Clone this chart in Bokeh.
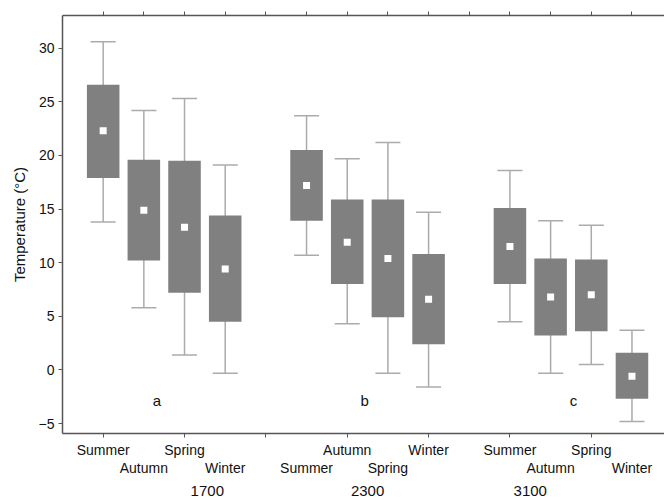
from bokeh.plotting import figure
from bokeh.models import (ColumnDataSource, Range1d, FixedTicker, LinearAxis, Whisker,
                          TeeHead, LabelSet)
from bokeh.core.properties import value
from bokeh.embed import file_html
from bokeh.resources import INLINE

# ---- data ----
seasons = ["Summer", "Autumn", "Spring", "Winter"]
altitudes = ["1700", "2300", "3100"]
panel_letters = ["a", "b", "c"]

# order: 1700 (S, A, Sp, W), 2300 (...), 3100 (...)
whisker_high = [30.6, 24.2, 25.3, 19.1, 23.7, 19.7, 21.2, 14.7, 18.6, 13.9, 13.5, 3.7]
box_top      = [26.6, 19.6, 19.5, 14.4, 20.5, 15.9, 15.9, 10.8, 15.1, 10.4, 10.3, 1.6]
center       = [22.3, 14.9, 13.3,  9.4, 17.2, 11.9, 10.4,  6.6, 11.5,  6.8,  7.0, -0.6]
box_bottom   = [17.9, 10.2,  7.2,  4.5, 13.9,  8.0,  4.9,  2.4,  8.0,  3.2,  3.6, -2.7]
whisker_low  = [13.8,  5.8,  1.4, -0.3, 10.7,  4.3, -0.3, -1.6,  4.5, -0.3,  0.5, -4.8]

y_ticks = [-5, 0, 5, 10, 15, 20, 25, 30]

# slot positions: 4 boxes per group, one empty slot between groups
xs = []
for g in range(len(altitudes)):
    for s in range(len(seasons)):
        xs.append(1 + g * 5 + s)
labels = seasons * len(altitudes)
group_pos = [3.56, 7.5, 11.5]

FONT = "Liberation Sans"
BOX = "#808080"
WHISK = "#ababab"
AXIS = "#555555"
TXT = "#111111"
TIN, TOUT = 0, 4

p = figure(width=664, height=500, output_backend="svg", toolbar_location=None,
           x_range=Range1d(0, 14.8), y_range=Range1d(-5.93, 33.05),
           min_border_left=62, min_border_right=0, min_border_top=15, min_border_bottom=67,
           x_axis_location=None)
p.outline_line_color = None
p.outline_line_alpha = 0
p.outline_line_width = 0
p.xgrid.visible = False
p.ygrid.visible = False

# left axis
ya = p.yaxis[0]
ya.ticker = FixedTicker(ticks=y_ticks)
ya.major_tick_in = TIN
ya.major_tick_out = TOUT
ya.minor_tick_line_color = None
ya.major_label_standoff = 8 - TOUT
ya.major_label_text_font = FONT
ya.major_label_text_font_size = "14px"
ya.major_label_text_color = TXT
ya.axis_line_color = AXIS
ya.axis_line_width = 1.5
ya.major_tick_line_color = AXIS
ya.axis_label = "Temperature (°C)"
ya.axis_label_text_font = FONT
ya.axis_label_text_font_size = "15px"
ya.axis_label_text_font_style = "normal"
ya.axis_label_text_color = TXT
ya.axis_label_standoff = 8

# bottom axis: ticks every second slot, first row of season labels
bottom_ticks = list(range(1, 15, 2))
row1 = {t: "" for t in bottom_ticks}
row2 = {}
for x, l in zip(xs, labels):
    if x % 2 == 1:
        row1[x] = l
    else:
        row2[x] = l

xb = LinearAxis(ticker=FixedTicker(ticks=bottom_ticks), major_tick_in=TIN, major_tick_out=TOUT,
                minor_tick_line_color=None, major_label_overrides=row1,
                major_label_standoff=4, major_label_text_font=FONT,
                major_label_text_font_size="14px", major_label_text_color=TXT,
                axis_line_color=AXIS, axis_line_width=1.5, major_tick_line_color=AXIS)
p.add_layout(xb, "below")

# second row of season labels
xr2 = LinearAxis(ticker=FixedTicker(ticks=sorted(row2)), major_tick_in=0, major_tick_out=0,
                 minor_tick_line_color=None, major_tick_line_color=None, axis_line_color=None,
                 axis_line_alpha=0, major_label_overrides=row2, major_label_standoff=-1,
                 major_label_text_font=FONT, major_label_text_font_size="14px",
                 major_label_text_color=TXT)
p.add_layout(xr2, "below")

# altitude group labels
xg = LinearAxis(ticker=FixedTicker(ticks=group_pos), major_tick_in=0, major_tick_out=0,
                minor_tick_line_color=None, major_tick_line_color=None, axis_line_color=None,
                axis_line_alpha=0,
                major_label_overrides={g: a for g, a in zip(group_pos, altitudes)},
                major_label_standoff=7, major_label_text_font=FONT,
                major_label_text_font_size="15px", major_label_text_color=TXT)
p.add_layout(xg, "below")

# top axis: tick at each slot
top_ticks = list(range(1, 15))
xt = LinearAxis(ticker=FixedTicker(ticks=top_ticks), major_tick_in=TIN, major_tick_out=TOUT,
                minor_tick_line_color=None,
                major_label_overrides={t: "" for t in top_ticks},
                major_label_standoff=0, axis_line_color=AXIS, axis_line_width=1.5,
                major_tick_line_color=AXIS)
p.add_layout(xt, "above")

src = ColumnDataSource(dict(x=xs, hi=whisker_high, q3=box_top, mid=center,
                            q1=box_bottom, lo=whisker_low))

wh = Whisker(source=src, base="x", upper="hi", lower="lo", line_color=WHISK, line_width=1.5,
             upper_head=TeeHead(size=25, line_color=WHISK, line_width=1.5),
             lower_head=TeeHead(size=25, line_color=WHISK, line_width=1.5),
             level="underlay")
p.add_layout(wh)

p.vbar(x="x", width=0.8, top="q3", bottom="q1", source=src, fill_color=BOX, line_color=None)
p.scatter(x="x", y="mid", source=src, marker="square", size=7, fill_color="white",
          line_color=None)

letters = ColumnDataSource(dict(x=[2.32, 7.43, 12.56], y=[-3.35] * 3, t=panel_letters))
p.add_layout(LabelSet(x="x", y="y", text="t", source=letters, text_font=value(FONT),
                      text_font_size="15px", text_align="center",
                      text_baseline="alphabetic", text_color=TXT))

open("out.html", "w").write(file_html(p, INLINE))
